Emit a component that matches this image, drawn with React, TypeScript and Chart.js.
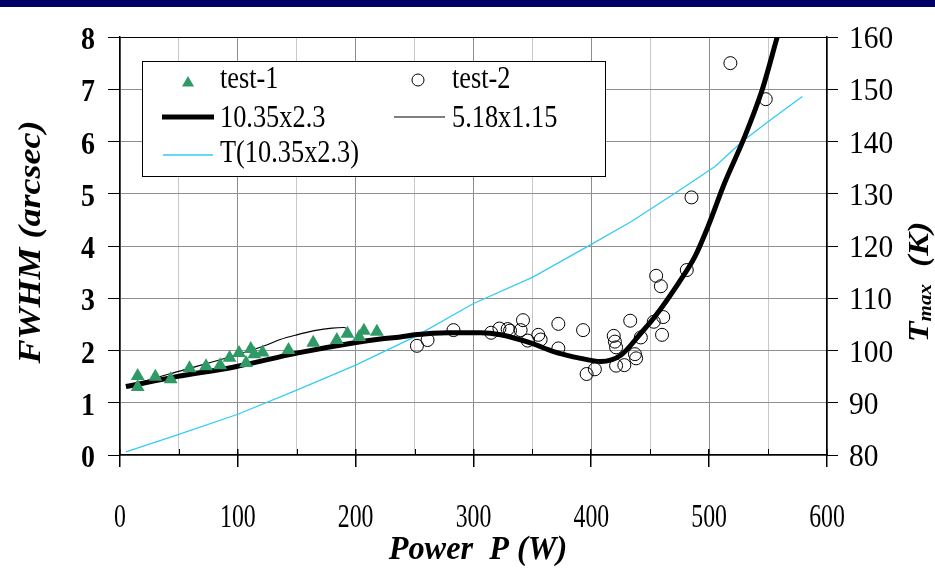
import React, { useEffect, useRef } from "react";
import { Chart, registerables } from "chart.js";

Chart.register(...registerables);

// ---------- data ----------
const xTickValues = [0, 100, 200, 300, 400, 500, 600];
const xMinorTickValues = [50, 150, 250, 350, 450, 550];
const yTickValues = [0, 1, 2, 3, 4, 5, 6, 7, 8];
const y1TickValues = [80, 90, 100, 110, 120, 130, 140, 150, 160];

const test1Power = [15, 15, 30, 43, 59, 73, 85, 93, 101, 107, 111, 114, 121, 143, 164, 184, 193, 203, 207, 218];
const test1Fwhm = [1.51, 1.3, 1.5, 1.45, 1.66, 1.7, 1.72, 1.86, 1.95, 1.76, 2.03, 1.93, 1.96, 2.01, 2.15, 2.2, 2.32, 2.26, 2.38, 2.36];

const test2Power = [252, 261, 283, 315, 322, 329, 331, 340, 342, 346, 355, 357, 372, 372, 393, 396, 403, 419, 420, 421, 421, 428, 433, 437, 438, 442, 453, 455, 459, 460, 461, 481, 485, 518, 548];
const test2Fwhm = [2.09, 2.2, 2.39, 2.34, 2.42, 2.41, 2.38, 2.39, 2.58, 2.19, 2.3, 2.21, 2.51, 2.04, 2.39, 1.55, 1.64, 2.28, 2.17, 1.71, 2.06, 1.72, 2.57, 1.93, 1.85, 2.25, 2.55, 3.43, 3.23, 2.3, 2.64, 3.54, 4.93, 7.5, 6.81];

const fitLargePower = [5, 48, 98, 150, 199, 221, 238, 250, 278, 306, 323, 349, 368, 391, 408, 425, 442, 454, 474, 488, 499, 513, 529, 545, 557, 562];
const fitLargeFwhm = [1.31, 1.5, 1.69, 1.95, 2.15, 2.22, 2.26, 2.3, 2.34, 2.34, 2.3, 2.14, 1.98, 1.85, 1.79, 1.91, 2.33, 2.65, 3.29, 3.8, 4.37, 5.2, 6.03, 6.99, 7.94, 8.35];

const fitSmallPower = [10, 25, 48, 98, 125, 136, 150, 165, 180, 190, 194];
const fitSmallFwhm = [1.33, 1.44, 1.59, 1.91, 2.11, 2.21, 2.3, 2.38, 2.43, 2.44, 2.4];

const tempPower = [5, 48, 100, 150, 200, 250, 300, 350, 400, 434, 471, 505, 528, 550, 579];
const tempK = [80.6, 83.8, 87.8, 92.4, 97.2, 102.6, 109.0, 114.0, 120.3, 124.7, 130.1, 135.2, 140.0, 143.8, 148.6];

const legendLabels = ["test-1", "test-2", "10.35x2.3", "5.18x1.15", "T(10.35x2.3)"];

const GREEN = "#2f9a66";
const CYAN = "#33ccf5";
const FONT = '"Liberation Serif", "Times New Roman", Times, serif';

const pts = (xs: number[], ys: number[]) => xs.map((x, i) => ({ x, y: ys[i] }));

function txt(ctx: CanvasRenderingContext2D, s: string, x: number, y: number, font: string, align: CanvasTextAlign, sx = 1) {
  ctx.save();
  ctx.translate(x, y);
  ctx.scale(sx, 1);
  ctx.font = font;
  ctx.textAlign = align;
  ctx.textBaseline = "alphabetic";
  ctx.fillStyle = "#000";
  ctx.fillText(s, 0, 0);
  ctx.restore();
}

function triangle(ctx: CanvasRenderingContext2D, x: number, y: number, r: number) {
  ctx.beginPath();
  ctx.moveTo(x, y - r);
  ctx.lineTo(x + r * 0.866, y + r * 0.5);
  ctx.lineTo(x - r * 0.866, y + r * 0.5);
  ctx.closePath();
  ctx.fillStyle = GREEN;
  ctx.fill();
}

const decorPlugin = {
  id: "decor",
  beforeDraw(chart: any) {
    const ctx = chart.ctx as CanvasRenderingContext2D;
    ctx.save();
    ctx.fillStyle = "#fff";
    ctx.fillRect(0, 0, chart.width, chart.height);
    ctx.fillStyle = "#000066";
    ctx.fillRect(0, 0, chart.width, 7);
    ctx.restore();
  },
  afterDatasetsDraw(chart: any) {
    const ctx = chart.ctx as CanvasRenderingContext2D;
    // legend box
    ctx.save();
    ctx.fillStyle = "#fff";
    ctx.fillRect(142.5, 61.5, 463, 115);
    ctx.strokeStyle = "#000";
    ctx.lineWidth = 1;
    ctx.strokeRect(142.5, 61.5, 463, 115);

    triangle(ctx, 188, 83, 7);
    ctx.beginPath();
    ctx.arc(418, 80, 6, 0, Math.PI * 2);
    ctx.strokeStyle = "#000";
    ctx.lineWidth = 1;
    ctx.stroke();

    ctx.beginPath();
    ctx.moveTo(162, 117);
    ctx.lineTo(214, 117);
    ctx.lineWidth = 5;
    ctx.strokeStyle = "#000";
    ctx.stroke();

    ctx.beginPath();
    ctx.moveTo(394, 117);
    ctx.lineTo(445, 117);
    ctx.lineWidth = 1.2;
    ctx.stroke();

    ctx.beginPath();
    ctx.moveTo(163, 155);
    ctx.lineTo(213, 155);
    ctx.lineWidth = 1.3;
    ctx.strokeStyle = CYAN;
    ctx.stroke();
    ctx.restore();

    const lf = `31px ${FONT}`;
    txt(ctx, legendLabels[0], 220, 88, lf, "left", 0.85);
    txt(ctx, legendLabels[1], 452, 88, lf, "left", 0.85);
    txt(ctx, legendLabels[2], 220, 127, lf, "left", 0.85);
    txt(ctx, legendLabels[3], 452, 127, lf, "left", 0.85);
    txt(ctx, legendLabels[4], 220, 162, lf, "left", 0.85);
  },
  afterDraw(chart: any) {
    const ctx = chart.ctx as CanvasRenderingContext2D;
    const xs = chart.scales.x;
    const ys = chart.scales.y;
    const y1s = chart.scales.y1;
    const bottom = ys.getPixelForValue(0);
    // x tick marks: major cross the axis, minor point inward
    ctx.save();
    ctx.fillStyle = "#000";
    xTickValues.forEach((v) => {
      const px = Math.round(xs.getPixelForValue(v));
      ctx.fillRect(px - 1, bottom - 6, 1.5, 18);
    });
    xMinorTickValues.forEach((v) => {
      const px = Math.round(xs.getPixelForValue(v));
      ctx.fillRect(px, bottom - 6, 1, 6);
    });
    ctx.restore();

    yTickValues.forEach((v) => {
      txt(ctx, String(v), 95, ys.getPixelForValue(v) + 12, `bold 31px ${FONT}`, "right", 0.9);
    });
    y1TickValues.forEach((v) => {
      txt(ctx, String(v), 849, y1s.getPixelForValue(v) + 11, `31px ${FONT}`, "left", 0.95);
    });
    xTickValues.forEach((v) => {
      txt(ctx, String(v), xs.getPixelForValue(v), 527, `34px ${FONT}`, "center", 0.7);
    });
    // x title
    txt(ctx, "Power  P (W)", 478, 559, `italic bold 34px ${FONT}`, "center", 0.95);
    // left title
    ctx.save();
    ctx.translate(40, 242);
    ctx.rotate(-Math.PI / 2);
    ctx.scale(1, 0.85);
    ctx.font = `italic bold 36px ${FONT}`;
    ctx.textAlign = "center";
    ctx.fillStyle = "#000";
    ctx.fillText("FWHM (arcsec)", 0, 0);
    ctx.restore();
    // right title
    ctx.save();
    ctx.translate(928, 282);
    ctx.rotate(-Math.PI / 2);
    ctx.scale(1, 0.85);
    ctx.fillStyle = "#000";
    ctx.textAlign = "left";
    const f1 = `italic bold 34px ${FONT}`;
    const f2 = `italic bold 21px ${FONT}`;
    ctx.font = f1;
    const wT = ctx.measureText("T").width;
    ctx.font = f2;
    const wM = ctx.measureText("max").width;
    ctx.font = f1;
    const wK = ctx.measureText("  (K)").width;
    const total = wT + wM + wK;
    let cx = -total / 2;
    ctx.font = f1;
    ctx.fillText("T", cx, 0);
    cx += wT;
    ctx.font = f2;
    ctx.fillText("max", cx, 3);
    cx += wM;
    ctx.font = f1;
    ctx.fillText("  (K)", cx, 0);
    ctx.restore();
  },
};

export default function App() {
  const ref = useRef<HTMLCanvasElement | null>(null);
  useEffect(() => {
    document.body.style.margin = "0";
    const canvas = ref.current!;
    const gridY = (c: any) => (c.tick && c.tick.value === 8 ? "#000" : "#8f8f8f");
    const chart = new Chart(canvas, {
      type: "scatter",
      data: {
        datasets: [
          {
            label: "test-1",
            data: pts(test1Power, test1Fwhm),
            pointStyle: "triangle",
            pointRadius: 8,
            backgroundColor: GREEN,
            borderColor: GREEN,
            borderWidth: 0,
            order: 0,
            yAxisID: "y",
          } as any,
          {
            label: "test-2",
            data: pts(test2Power, test2Fwhm),
            pointStyle: "circle",
            pointRadius: 6.5,
            backgroundColor: "rgba(0,0,0,0)",
            borderColor: "#000",
            borderWidth: 1,
            order: 1,
            yAxisID: "y",
          },
          {
            type: "line",
            label: "10.35x2.3",
            data: pts(fitLargePower, fitLargeFwhm),
            borderColor: "#000",
            borderWidth: 5,
            pointRadius: 0,
            fill: false,
            cubicInterpolationMode: "monotone",
            order: 2,
            yAxisID: "y",
          },
          {
            type: "line",
            label: "5.18x1.15",
            data: pts(fitSmallPower, fitSmallFwhm),
            borderColor: "#000",
            borderWidth: 1.2,
            pointRadius: 0,
            fill: false,
            cubicInterpolationMode: "monotone",
            order: 3,
            yAxisID: "y",
          },
          {
            type: "line",
            label: "T(10.35x2.3)",
            data: pts(tempPower, tempK),
            borderColor: CYAN,
            borderWidth: 1.3,
            pointRadius: 0,
            fill: false,
            tension: 0,
            order: 4,
            yAxisID: "y1",
          },
        ] as any,
      },
      options: {
        animation: false,
        responsive: false,
        events: [],
        layout: { padding: { top: 37, left: 0, right: 0, bottom: 0 } },
        plugins: { legend: { display: false }, tooltip: { enabled: false } },
        scales: {
          x: {
            type: "linear",
            min: 0,
            max: 600,
            ticks: { stepSize: 50, display: false },
            grid: {
              color: (c: any) => (c.tick && c.tick.value % 100 === 0 ? "#8c8c8c" : "#c8c8c8"),
              drawTicks: false,
              lineWidth: 1,
            },
            border: { display: true, color: "#000", width: 1.5 },
            afterFit: (s: any) => {
              s.height = 114;
            },
          },
          y: {
            type: "linear",
            position: "left",
            min: 0,
            max: 8,
            ticks: { stepSize: 1, display: false },
            grid: { color: gridY, tickColor: "#000", tickLength: 12, lineWidth: 1 },
            border: { display: true, color: "#000", width: 1.5 },
            afterFit: (s: any) => {
              s.width = 120;
            },
          },
          y1: {
            type: "linear",
            position: "right",
            min: 80,
            max: 160,
            ticks: { stepSize: 10, display: false },
            grid: { drawOnChartArea: false, tickColor: "#000", tickLength: 11, lineWidth: 1 },
            border: { display: true, color: "#000", width: 1.5 },
            afterFit: (s: any) => {
              s.width = 108;
            },
          },
        },
      } as any,
      plugins: [decorPlugin],
    });
    return () => chart.destroy();
  }, []);
  return <canvas ref={ref} width={935} height={569} style={{ display: "block", width: 935, height: 569 }} />;
}
